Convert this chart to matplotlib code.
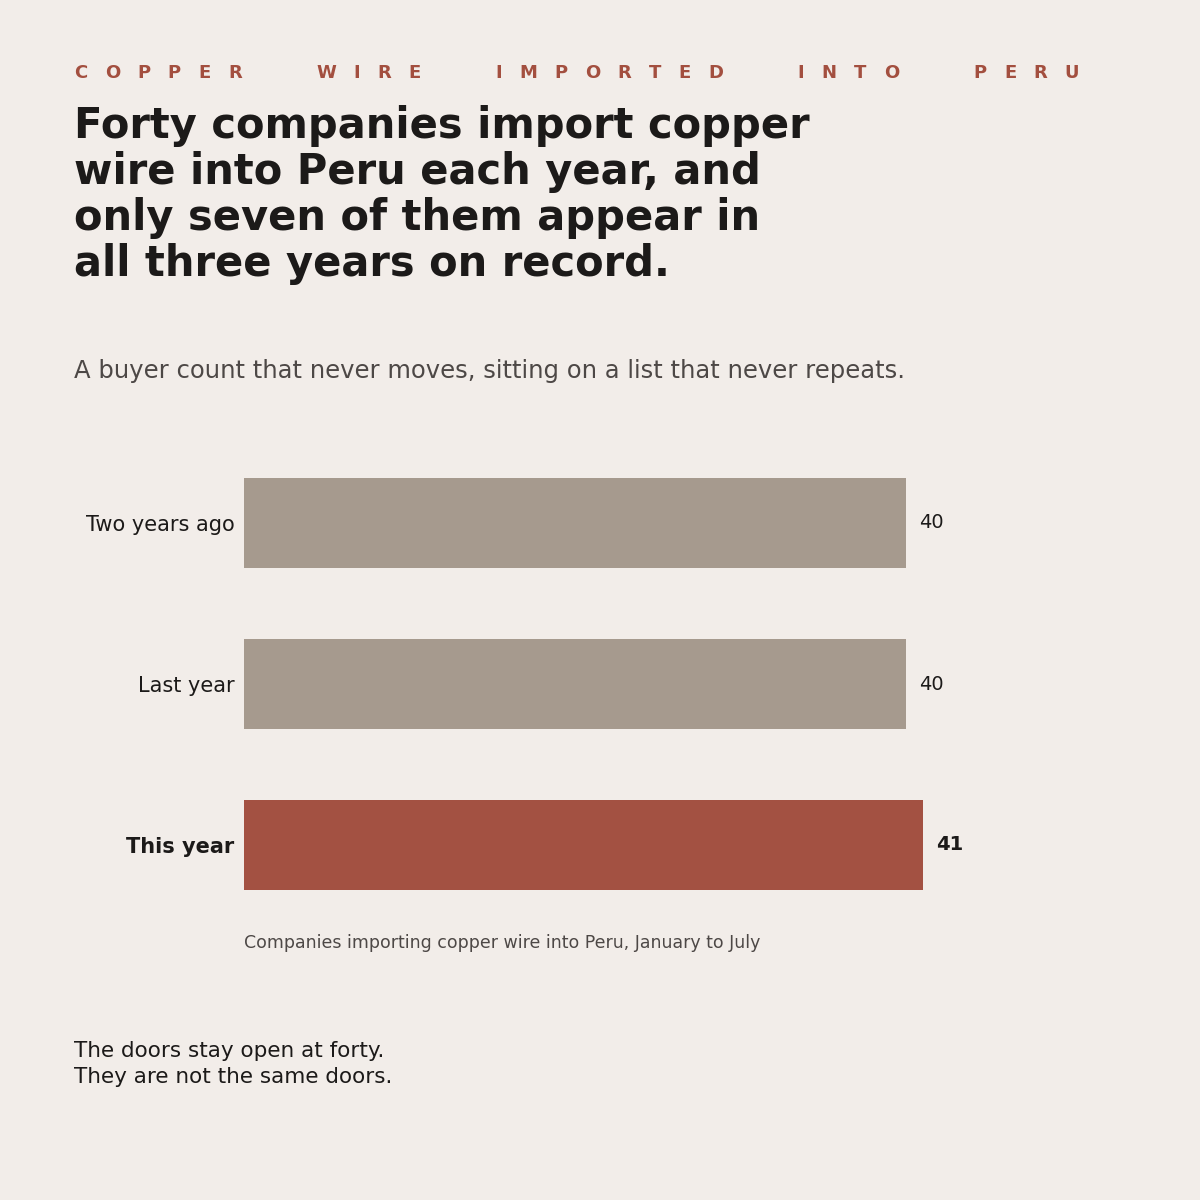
import matplotlib
matplotlib.use("Agg")
import matplotlib.pyplot as plt

etiquetas = ["Two years ago", "Last year", "This year"]
valores = [40, 40, 41]
colores = ["#a69a8e", "#a69a8e", "#a35142"]

fondo = "#f2ede9"
tinta = "#1c1a19"
gris = "#4d4846"
rojo = "#a34f3f"

kicker = "COPPER WIRE IMPORTED INTO PERU"
titulo = ("Forty companies import copper\nwire into Peru each year, and\n"
          "only seven of them appear in\nall three years on record.")
subtitulo = "A buyer count that never moves, sitting on a list that never repeats."
nota = "Companies importing copper wire into Peru, January to July"
pie = "The doors stay open at forty.\nThey are not the same doors."

plt.rcParams["font.family"] = ["DejaVu Sans"]

fig = plt.figure(figsize=(12, 12), dpi=100, facecolor=fondo)
W, H = 1200, 1200

# kicker con espaciado de letras
r = fig.canvas.get_renderer()
x = 74
for ch in kicker:
    if ch == " ":
        x += 57
        continue
    t = fig.text(x / W, 1 - 73 / H, ch, fontsize=13, fontweight="bold",
                 color=rojo, va="center", ha="left")
    ancho = t.get_window_extent(r).width
    x += ancho + 17.4

fig.text(74 / W, 1 - 105 / H, titulo, fontsize=30, fontweight="bold",
         color=tinta, va="top", ha="left", linespacing=1.125)
fig.text(74 / W, 1 - 371 / H, subtitulo, fontsize=17.5, color=gris,
         va="center", ha="left")

ax = fig.add_axes([244 / W, 1 - 925.5 / H, 827.5 / W, 483 / H])
ax.set_facecolor(fondo)
pos = list(range(len(etiquetas)))
ax.barh(pos, valores, height=0.56, color=colores)
ax.set_xlim(0, 50)
ax.set_ylim(2.5, -0.5)
ax.set_yticks(pos)
ax.set_yticklabels(etiquetas, fontsize=15, color=tinta)
ax.get_yticklabels()[2].set_fontweight("bold")
ax.tick_params(axis="y", length=0, pad=7)
ax.set_xticks([])
for s in ax.spines.values():
    s.set_visible(False)

for i, v in enumerate(valores):
    peso = "bold" if i == 2 else "normal"
    ax.annotate(str(v), (v, i), xytext=(9.5, 0), textcoords="offset points",
                fontsize=14, fontweight=peso, color=tinta, va="center", ha="left")

fig.text(244 / W, 1 - 943 / H, nota, fontsize=12.5, color=gris,
         va="center", ha="left")
fig.text(74 / W, 1 - 1064 / H, pie, fontsize=15.5, color=tinta,
         va="center", ha="left", linespacing=1.36)

plt.savefig("out.png", facecolor=fondo)
